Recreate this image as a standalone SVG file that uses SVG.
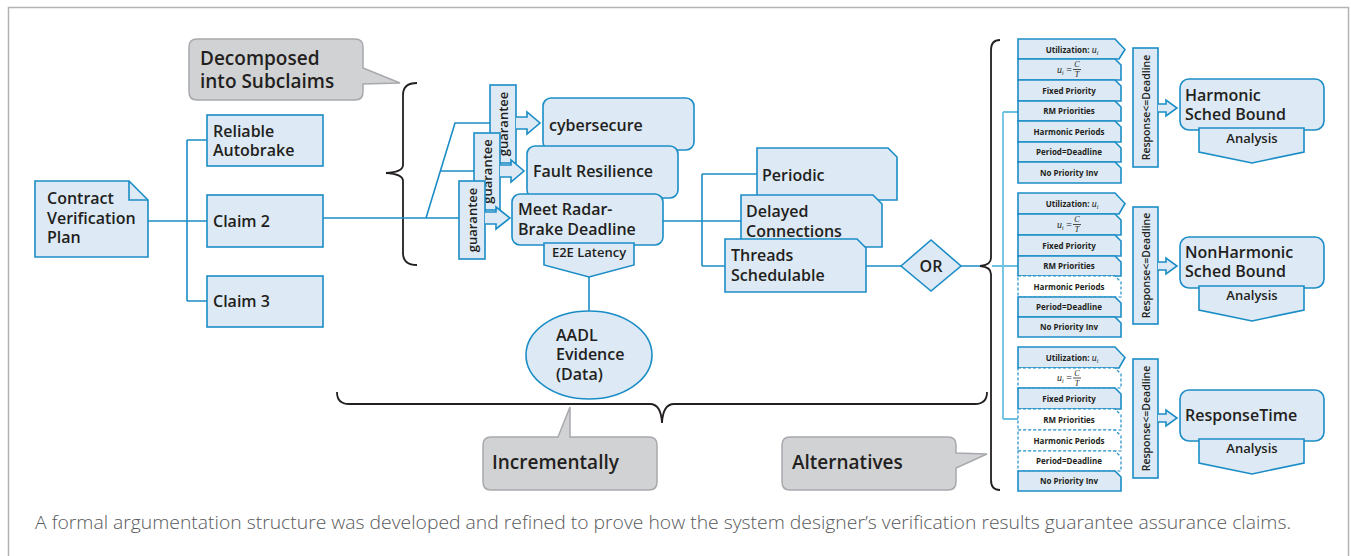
<svg xmlns="http://www.w3.org/2000/svg" width="1351" height="556" viewBox="0 0 1351 556">
<style>
.n{fill:#dde9f5;stroke:#1b8dc6;stroke-width:1.6}
.d{fill:#ffffff;stroke:#1b8dc6;stroke-width:1.2;stroke-dasharray:3 2}
.c{fill:none;stroke:#1b8dc6;stroke-width:1.6}
.lc{fill:none;stroke:#6cc0e0;stroke-width:1.8}
.br{fill:none;stroke:#231f20;stroke-width:1.8}
.co{fill:#d1d2d4;stroke:#a7a9ac;stroke-width:1.5}
.t{font-family:"Open Sans","Liberation Sans",sans-serif;font-weight:600;fill:#231f20}
.s16{font-size:16px}
.s19{font-size:19px}
.s13{font-size:13px}
.s8{font-size:8px;font-weight:700;text-anchor:middle}
.m{font-family:"Liberation Serif","DejaVu Serif",serif;font-style:italic;font-weight:400}
.mid{text-anchor:middle}
</style>
<rect x="8.5" y="7.5" width="1340" height="560" fill="#ffffff" stroke="#b3b3b3" stroke-width="1.5"/>

<g id="callouts">
<path class="co" d="M197,39 H355 Q363,39 363,47 V68 L400,83 L363,84 V92 Q363,100 355,100 H197 Q189,100 189,92 V47 Q189,39 197,39 Z"/>
<text class="t s19" x="200" y="65">Decomposed</text>
<text class="t s19" x="200" y="88">into Subclaims</text>
<path class="co" d="M491,437 H558 L570,407 V437 H649 Q657,437 657,445 V482 Q657,490 649,490 H491 Q483,490 483,482 V445 Q483,437 491,437 Z"/>
<text class="t s19" x="492" y="469">Incrementally</text>
<path class="co" d="M790,437 H948 Q956,437 956,445 V453 L987,454 L956,468 V482 Q956,490 948,490 H790 Q782,490 782,482 V445 Q782,437 790,437 Z"/>
<text class="t s19" x="792" y="469">Alternatives</text>
</g>

<g id="brackets">
<path class="br" d="M417,83 Q403,83 403,95 V165 Q403,172 386,173 Q403,174 403,181 V253 Q403,265 417,265"/>
<path class="br" d="M337,392 Q337,404 349,404 H650 Q661,404 662,423 Q663,404 674,404 H975 Q987,404 987,392"/>
<path class="br" d="M1000,40 Q991,40 991,50 V258 Q991,265 980,266 Q991,267 991,274 V480 Q991,490 1000,490"/>
</g>

<g id="connectors">
<path class="c" d="M148,221 H207 M187,140 V301 M187,140 H207 M187,301 H207"/>
<path class="c" d="M323,218 H459 M426,218 L455,123 H490 M440,171 H474"/>
<path class="c" d="M589,277 V311"/>
<path class="c" d="M663,221 H741 M702,174 V266 M702,174 H757 M702,266 H725"/>
<path class="c" d="M866,266 H901 M961,266 H980"/>
<path class="lc" d="M992,266 H1003 M1003,112 V419 M1003,112 H1018 M1003,266 H1018 M1003,419 H1018"/>
</g>

<g id="cvp">
<path class="n" d="M35,181 H129 L148,200 V257 H35 Z"/>
<path class="c" d="M129,181 V200 H148"/>
<text class="t s16" x="47" y="204">Contract</text>
<text class="t s16" x="47" y="224">Verification</text>
<text class="t s16" x="47" y="243">Plan</text>
</g>
<g id="claim1"><rect class="n" x="207" y="115" width="116" height="51"/><text class="t s16" x="213" y="137">Reliable</text><text class="t s16" x="213" y="156">Autobrake</text></g>
<g id="claim2"><rect class="n" x="207" y="195" width="116" height="52"/><text class="t s16" x="213" y="227">Claim 2</text></g>
<g id="claim3"><rect class="n" x="207" y="276" width="116" height="51"/><text class="t s16" x="213" y="307">Claim 3</text></g>

<g id="guarantee1">
<rect class="n" x="490" y="85" width="26" height="78"/>
<path class="n" d="M516,117 H527 V112 L540,123 L527,134 V129 H516"/>
<text class="t s13 mid" transform="translate(507.5,124) rotate(-90)">guarantee</text>
</g>
<g id="cybersecure"><rect class="n" x="543" y="98" width="151" height="52" rx="8"/><text class="t s16" x="549" y="131">cybersecure</text></g>
<g id="guarantee2">
<rect class="n" x="474" y="133" width="26" height="77"/>
<path class="n" d="M500,165 H511 V160 L524,171 L511,182 V177 H500"/>
<text class="t s13 mid" transform="translate(491.5,171.5) rotate(-90)">guarantee</text>
</g>
<g id="fault"><rect class="n" x="527" y="146" width="151" height="52" rx="8"/><text class="t s16" x="533" y="177">Fault Resilience</text></g>
<g id="guarantee3">
<rect class="n" x="459" y="181" width="26" height="78"/>
<path class="n" d="M485,212 H496 V207 L510,218 L496,229 V224 H485"/>
<text class="t s13 mid" transform="translate(476.5,220) rotate(-90)">guarantee</text>
</g>
<g id="deadline"><rect class="n" x="512" y="194" width="151" height="51" rx="8"/><text class="t s16" x="518" y="215">Meet Radar-</text><text class="t s16" x="518" y="235">Brake Deadline</text></g>
<g id="e2e"><path class="n" d="M544,243 H634 V265 L589,277 L544,265 Z"/><text class="t s13 mid" x="589" y="257">E2E Latency</text></g>
<g id="aadl"><ellipse class="n" cx="589" cy="355" rx="63" ry="44"/><text class="t s16" x="556" y="341">AADL</text><text class="t s16" x="556" y="360">Evidence</text><text class="t s16" x="556" y="380">(Data)</text></g>

<g id="periodic"><path class="n" d="M757,148 H888 L897,157 V200 H757 Z"/><text class="t s16" x="762" y="181">Periodic</text></g>
<g id="delayed"><path class="n" d="M741,195 H873 L882,204 V247 H741 Z"/><text class="t s16" x="746" y="217">Delayed</text><text class="t s16" x="746" y="237">Connections</text></g>
<g id="threads"><path class="n" d="M725,239 H857 L866,248 V292 H725 Z"/><text class="t s16" x="731" y="261">Threads</text><text class="t s16" x="731" y="281">Schedulable</text></g>
<g id="or"><path class="n" d="M901,266 L931,240 L961,266 L931,291 Z"/><text class="t s16 mid" x="931" y="272">OR</text></g>

<g id="alt1">
<path class="n" d="M1018,39 H1115 L1125,49.5 L1119,59 H1018 Z"/>
<path class="n" d="M1018,59 H1115 L1121,65 V80 H1018 Z"/>
<path class="n" d="M1018,80 H1115 L1121,86 V101 H1018 Z"/>
<path class="n" d="M1018,101 H1115 L1121,107 V121 H1018 Z"/>
<path class="n" d="M1018,121 H1115 L1121,127 V142 H1018 Z"/>
<path class="n" d="M1018,142 H1115 L1121,148 V162 H1018 Z"/>
<path class="n" d="M1018,162 H1115 L1121,168 V183 H1018 Z"/>
<text class="t s8" x="1072" y="52.5">Utilization: <tspan class="m" font-size="10">u</tspan><tspan class="m" font-size="6" dy="2">i</tspan></text>
<text class="t m" font-size="10" x="1057" y="72.5">u<tspan font-size="6" dy="2">i</tspan><tspan font-style="normal" dy="-2"> = </tspan></text>
<text class="t m" font-size="8" x="1077" y="67" text-anchor="middle">C</text>
<path d="M1073,69.5 H1081" stroke="#231f20" stroke-width="0.8"/>
<text class="t m" font-size="8" x="1077" y="77" text-anchor="middle">T</text>
<text class="t s8" x="1069" y="93.5">Fixed Priority</text>
<text class="t s8" x="1069" y="114">RM Priorities</text>
<text class="t s8" x="1069" y="134.5">Harmonic Periods</text>
<text class="t s8" x="1069" y="155">Period=Deadline</text>
<text class="t s8" x="1069" y="175.5">No Priority Inv</text>
<rect class="n" x="1133" y="48" width="25" height="119"/>
<text class="t mid" font-size="10.5" transform="translate(1149.5,107.5) rotate(-90)">Response&lt;=Deadline</text>
<path class="n" d="M1158,104 H1166 V100 L1177,108 L1166,116 V112 H1158"/>
<rect class="n" x="1180" y="79" width="144" height="51" rx="9"/>
<path class="n" d="M1199,128 H1304 V152 L1252,163 L1199,152 Z"/>
<text class="t s16" x="1185" y="101">Harmonic</text>
<text class="t s16" x="1185" y="120">Sched Bound</text>
<text class="t s13 mid" x="1252" y="143">Analysis</text>
</g>

<g id="alt2">
<path class="n" d="M1018,193 H1115 L1125,203.5 L1119,214 H1018 Z"/>
<path class="n" d="M1018,214 H1115 L1121,220 V235 H1018 Z"/>
<path class="n" d="M1018,235 H1115 L1121,241 V256 H1018 Z"/>
<path class="n" d="M1018,256 H1115 L1121,262 V276 H1018 Z"/>
<path class="d" d="M1018,276 H1115 L1121,282 V297 H1018 Z"/>
<path class="n" d="M1018,297 H1115 L1121,303 V317 H1018 Z"/>
<path class="n" d="M1018,317 H1115 L1121,323 V337 H1018 Z"/>
<text class="t s8" x="1072" y="206.5">Utilization: <tspan class="m" font-size="10">u</tspan><tspan class="m" font-size="6" dy="2">i</tspan></text>
<text class="t m" font-size="10" x="1057" y="227.5">u<tspan font-size="6" dy="2">i</tspan><tspan font-style="normal" dy="-2"> = </tspan></text>
<text class="t m" font-size="8" x="1077" y="222" text-anchor="middle">C</text>
<path d="M1073,224.5 H1081" stroke="#231f20" stroke-width="0.8"/>
<text class="t m" font-size="8" x="1077" y="232" text-anchor="middle">T</text>
<text class="t s8" x="1069" y="248.5">Fixed Priority</text>
<text class="t s8" x="1069" y="269">RM Priorities</text>
<text class="t s8" x="1069" y="289.5">Harmonic Periods</text>
<text class="t s8" x="1069" y="310">Period=Deadline</text>
<text class="t s8" x="1069" y="330">No Priority Inv</text>
<rect class="n" x="1133" y="207" width="25" height="117"/>
<text class="t mid" font-size="10.5" transform="translate(1149.5,265.5) rotate(-90)">Response&lt;=Deadline</text>
<path class="n" d="M1158,262 H1166 V258 L1177,266 L1166,274 V270 H1158"/>
<rect class="n" x="1180" y="237" width="144" height="51" rx="9"/>
<path class="n" d="M1199,286 H1304 V310 L1252,321 L1199,310 Z"/>
<text class="t s16" x="1185" y="258">NonHarmonic</text>
<text class="t s16" x="1185" y="277">Sched Bound</text>
<text class="t s13 mid" x="1252" y="300">Analysis</text>
</g>

<g id="alt3">
<path class="n" d="M1018,347 H1115 L1125,357.5 L1119,368 H1018 Z"/>
<path class="d" d="M1018,368 H1115 L1121,374 V388 H1018 Z"/>
<path class="n" d="M1018,388 H1115 L1121,394 V409 H1018 Z"/>
<path class="d" d="M1018,409 H1115 L1121,415 V430 H1018 Z"/>
<path class="d" d="M1018,430 H1115 L1121,436 V451 H1018 Z"/>
<path class="d" d="M1018,451 H1115 L1121,457 V471 H1018 Z"/>
<path class="n" d="M1018,471 H1115 L1121,477 V491 H1018 Z"/>
<text class="t s8" x="1072" y="360.5">Utilization: <tspan class="m" font-size="10">u</tspan><tspan class="m" font-size="6" dy="2">i</tspan></text>
<text class="t m" font-size="10" x="1057" y="381">u<tspan font-size="6" dy="2">i</tspan><tspan font-style="normal" dy="-2"> = </tspan></text>
<text class="t m" font-size="8" x="1077" y="375.5" text-anchor="middle">C</text>
<path d="M1073,378 H1081" stroke="#231f20" stroke-width="0.8"/>
<text class="t m" font-size="8" x="1077" y="385.5" text-anchor="middle">T</text>
<text class="t s8" x="1069" y="401.5">Fixed Priority</text>
<text class="t s8" x="1069" y="422.5">RM Priorities</text>
<text class="t s8" x="1069" y="443.5">Harmonic Periods</text>
<text class="t s8" x="1069" y="464">Period=Deadline</text>
<text class="t s8" x="1069" y="484">No Priority Inv</text>
<rect class="n" x="1133" y="359" width="25" height="119"/>
<text class="t mid" font-size="10.5" transform="translate(1149.5,418.5) rotate(-90)">Response&lt;=Deadline</text>
<path class="n" d="M1158,414 H1166 V410 L1177,418 L1166,426 V422 H1158"/>
<rect class="n" x="1180" y="390" width="144" height="51" rx="9"/>
<path class="n" d="M1199,439 H1304 V463 L1252,474 L1199,463 Z"/>
<text class="t s16" x="1185" y="421">ResponseTime</text>
<text class="t s13 mid" x="1252" y="453">Analysis</text>
</g>

<text x="35" y="529" font-family="'Open Sans','Liberation Sans',sans-serif" font-weight="300" font-size="19" fill="#58595b" textLength="1256" lengthAdjust="spacingAndGlyphs">A formal argumentation structure was developed and refined to prove how the system designer’s verification results guarantee assurance claims.</text>
</svg>
